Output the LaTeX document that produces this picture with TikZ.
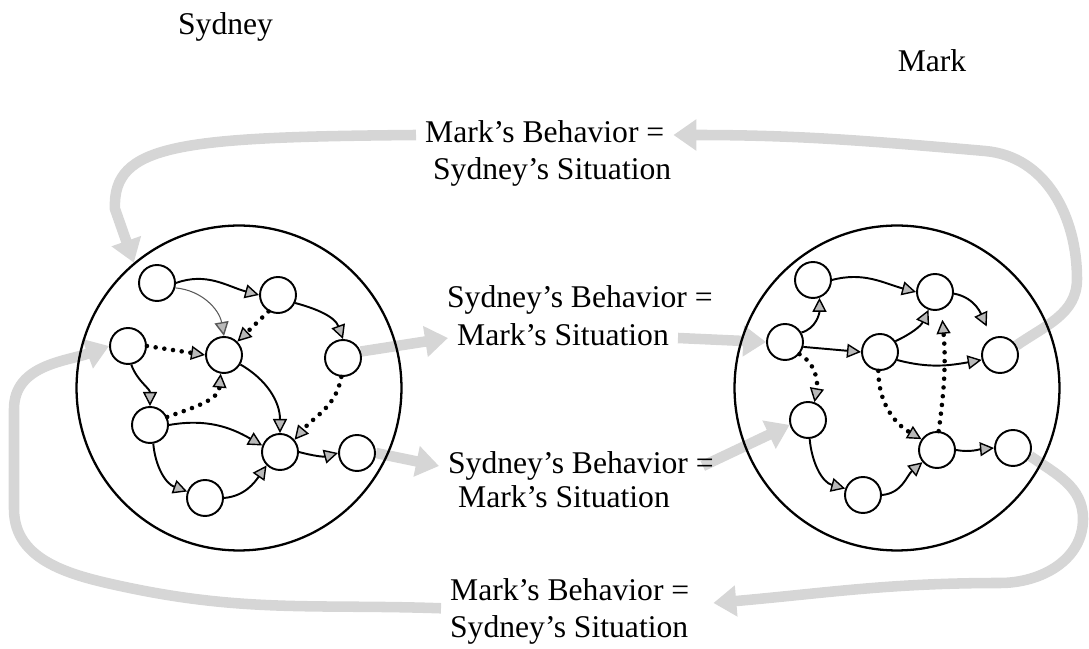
\documentclass[tikz,border=0pt]{standalone}
\usepackage{fontspec}
\setmainfont{Liberation Serif}
\usetikzlibrary{arrows.meta,backgrounds}

\tikzset{
  caption/.style={font=\fontsize{18}{21}\selectfont, text height=13pt, text depth=4pt, inner xsep=5pt, inner ysep=0pt},
  mind/.style={circle, draw, line width=1.3pt, minimum size=6.5cm, inner sep=0pt},
  agent/.style={circle, draw, line width=1.1pt, minimum size=0.72cm, inner sep=0pt},
  link/.style={line width=1.1pt, -{Triangle[length=8pt, width=8pt, line width=0.8pt, fill=gray!55]}},
  faintlink/.style={link, line width=0.6pt, draw=gray!70!black},
  dotlink/.style={link, line width=2.6pt, line cap=round, dash pattern=on 0pt off 5pt},
  flow/.style={draw=gray!32, line width=6pt, -{Triangle[length=13pt, width=17pt]}},
}

\begin{document}
\begin{tikzpicture}[x=0.02cm, y=0.02cm]
\useasboundingbox (0,0) rectangle (1089,649);

% Names
\node[caption, anchor=west] (sydlbl) at (169,622) {Sydney};
\node[caption] (marklbl) at (932,585) {Mark};

% Captions between the two people
\node[caption, anchor=west] (top1) at (416,514) {Mark’s Behavior =};
\node[caption, anchor=west] (top2) at (424,477) {Sydney’s Situation};
\node[caption, anchor=west] (mid1a) at (438,349) {Sydney’s Behavior =};
\node[caption, anchor=west] (mid1b) at (448,311) {Mark’s Situation};
\node[caption, anchor=west] (mid2a) at (439,183) {Sydney’s Behavior =};
\node[caption, anchor=west] (mid2b) at (449,149) {Mark’s Situation};
\node[caption, anchor=west] (bot1) at (441,56) {Mark’s Behavior =};
\node[caption, anchor=west] (bot2) at (441,19) {Sydney’s Situation};

% The two minds
\node[mind] (sydney) at (239,261) {};
\node[mind] (mark) at (897,261) {};

% Sydney network
\node[agent] (s1) at (157,366) {};
\node[agent] (s2) at (278,354) {};
\node[agent] (s3) at (128,303) {};
\node[agent] (s4) at (224,294) {};
\node[agent] (s5) at (343,291) {};
\node[agent] (s6) at (150,224) {};
\node[agent] (s7) at (280,197) {};
\node[agent] (s8) at (357,196) {};
\node[agent] (s9) at (205,151) {};

\draw[link] (s1.east) to[out=20,in=165] (s2.west);
\draw[faintlink] (s1.-15) to[out=-5,in=100] (s4.north);
\draw[dotlink] (s2.240) -- (s4.45);
\draw[link] (s2.-25) to[out=-15,in=110] (s5.north);
\draw[dotlink] (s3.east) -- (s4.west);
\draw[link] (s3.-80) to[out=-70,in=90] (s6.north);
\draw[dotlink] (s6.25) to[out=20,in=-95] (s4.-100);
\draw[link] (s4.-30) to[out=-30,in=90] (s7.north);
\draw[dotlink] (s5.-95) to[out=-100,in=50] (s7.40);
\draw[link] (s6.east) to[out=10,in=150] (s7.160);
\draw[link] (s6.-80) to[out=-85,in=160] (s9.160);
\draw[link] (s9.east) to[out=5,in=-125] (s7.-135);
\draw[link] (s7.east) to[out=-15,in=195] (s8.west);

% Mark network
\node[agent] (m1) at (813,369) {};
\node[agent] (m2) at (935,357) {};
\node[agent] (m3) at (785,307) {};
\node[agent] (m4) at (880,297) {};
\node[agent] (m5) at (1000,294) {};
\node[agent] (m6) at (808,229) {};
\node[agent] (m7) at (937,199) {};
\node[agent] (m8) at (1013,201) {};
\node[agent] (m9) at (863,154) {};

\draw[link] (m1.east) to[out=15,in=165] (m2.west);
\draw[link, shorten >=0.25cm] (m2.-5) to[out=-10,in=115] (m5.115);
\draw[link] (m3.30) to[out=15,in=-90] (m1.-70);
\draw[link] (m3.-15) -- (m4.west);
\draw[dotlink] (m3.-40) to[out=-30,in=80] (m6.70);
\draw[link] (m4.35) to[out=25,in=-115] (m2.-110);
\draw[link] (m4.-25) to[out=-15,in=190] (m5.195);
\draw[dotlink] (m4.-95) to[out=-90,in=150] (m7.145);
\draw[dotlink, shorten >=0.2cm] (m7.85) to[out=82,in=-85] (m2.-70);
\draw[link] (m7.east) to[out=-10,in=185] (m8.west);
\draw[link] (m6.-85) to[out=-85,in=165] (m9.160);
\draw[link] (m9.east) to[out=5,in=-140] (m7.-140);

% Behaviour flows
\begin{scope}[on background layer]
\draw[flow] (top1.west) .. controls (180,512) and (112,505) .. (115,440) -- (sydney.130);
\draw[flow] (m5.30) to[out=35,in=-90] (1077,370) to[out=90,in=-5] (985,498) to[out=175,in=0] (top1.east);
\draw[flow] (s5.20) -- (mid1b.west);
\draw[flow] (mid1b.east) -- (m3.west);
\draw[flow] (s8.east) -- (mid2a.west);
\draw[flow] ([xshift=-0.4cm]mid2a.east) -- (m6.195);
\draw[flow] (m8.-25) to[out=-35,in=90] (1083,130) to[out=-90,in=0] (1000,66) to[out=180,in=5] ([xshift=0.3cm, yshift=-0.2cm]bot1.east);
\draw[flow] (bot1.south west) to[out=178,in=-12] (125,62) to[out=168,in=-90] (14,140) -- (14,240) to[out=90,in=200] (s3.west);
\end{scope}

\end{tikzpicture}
\end{document}
